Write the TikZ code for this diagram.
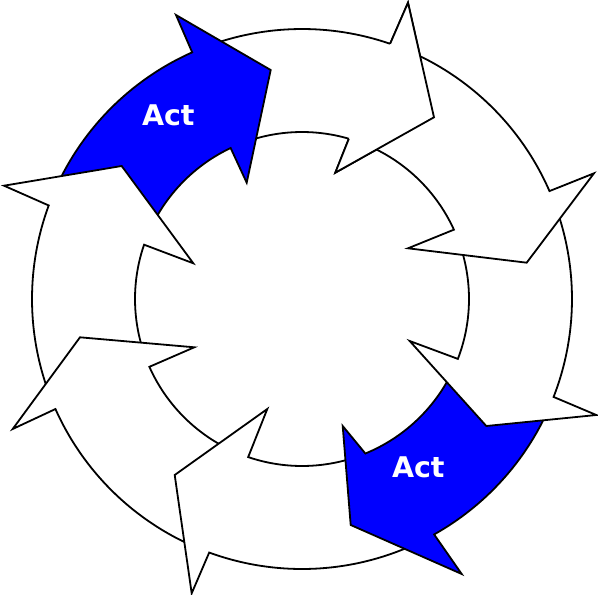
\documentclass[tikz,border=0pt]{standalone}
\usepackage{fontspec}
\usepackage{tikz}
\newfontfamily\actfont{DejaVu Sans}
\definecolor{actblue}{RGB}{0,0,255}

% one curved arrow of the cycle:
% #1 style, #2 tail angle (outer), #3 head angle (outer), #4 outer barb,
% #5 tip, #6 inner barb, #7 head angle (inner), #8 tail angle (inner)
\newcommand{\cycarrow}[8]{%
  \draw[#1] (#2:270) arc[start angle=#2, end angle=#3, radius=270]
    -- #4 -- #5 -- #6 -- (#7:167)
    arc[start angle=#7, end angle=#8, radius=167] -- cycle;}

\begin{document}
\begin{tikzpicture}[x=1pt, y=1pt,
    seg/.style={draw=black, line width=1.8pt, fill=white},
    actseg/.style={seg, fill=actblue},
    lbl/.style={text=white, font=\actfont\bfseries\fontsize{28.5pt}{30pt}\selectfont}]
  \useasboundingbox (-302,-296) rectangle (296,299);

  % Arrows, each head over the tail of the next one
  \cycarrow{seg}{110.7}{70.95}{(106,296.3)}{(132,181.7)}{(33.3,126.3)}{73.7}{110.6}
  \cycarrow{actseg}{156.3}{114.0}{(-126,284)}{(-31.3,229)}{(-55.3,116.3)}{115.3}{155.4}
  \cycarrow{seg}{201.2}{159.73}{(-298,113.3)}{(-180.3,133)}{(-108.7,35.7)}{161.02}{199.6}
  \cycarrow{seg}{-113}{-155.95}{(-289.3,-130)}{(-222,-38.3)}{(-107.7,-48.3)}{-156.04}{-114}
  \cycarrow{seg}{-64}{-110.1}{(-110.3,-294.3)}{(-127.3,-176)}{(-34.7,-110)}{-108.8}{-71}
  \cycarrow{actseg}{-24}{-60.7}{(159.7,-275)}{(48.7,-226)}{(40.7,-127)}{-67.7}{-25.4}
  \cycarrow{seg}{20.4}{-21.27}{(294.3,-116)}{(184.3,-127)}{(107.7,-42)}{-21.02}{20}
  \cycarrow{seg}{67.5}{23.56}{(292,125.7)}{(224.7,36.3)}{(106,50.7)}{24.53}{68.5}

  % top arrow's head again, over the last tail
  \fill[white] (70.95:270) -- (106,296.3) -- (132,181.7) -- (33.3,126.3) -- (73.7:167) -- cycle;
  \draw[line width=1.8pt] (70.95:270) -- (106,296.3) -- (132,181.7) -- (33.3,126.3) -- (73.7:167);

  % Labels
  \node[lbl] (actTop) at (-133.7,183.6) {Act};
  \node[lbl] (actBot) at (116.3,-168.2) {Act};
\end{tikzpicture}
\end{document}
